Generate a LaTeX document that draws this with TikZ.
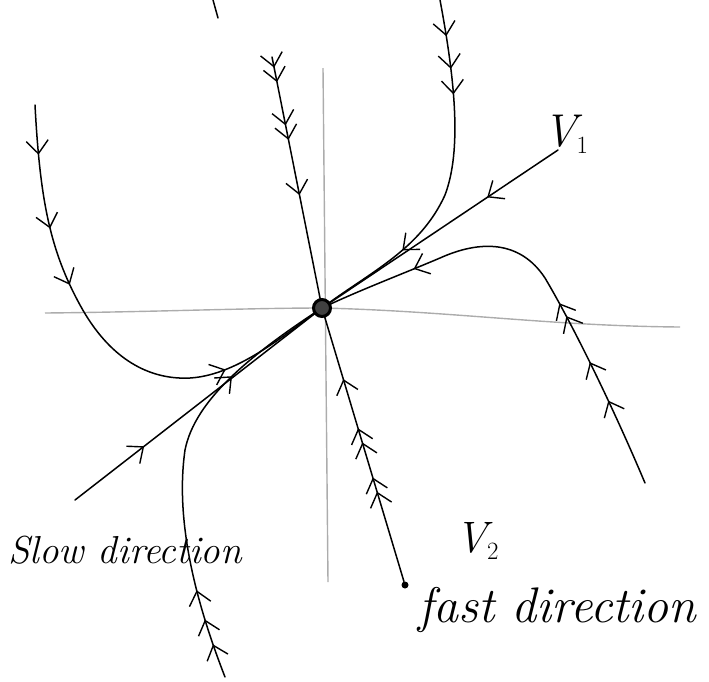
\documentclass[tikz,border=0pt]{standalone}
\usepackage{fontspec}
\usetikzlibrary{arrows.meta,decorations.markings}

\tikzset{
  >={Straight Barb[length=13pt,width=22pt,line width=1.4pt]},
  axis/.style={gray!65, line width=1.4pt},
  traj/.style={line width=1.5pt, line cap=round},
  barb/.style={postaction={decorate,decoration={markings,mark=at position #1 with {\arrow{>}}}}},
  dbarb/.style={postaction={decorate,decoration={markings,mark=at position #1 with {\arrow{>>}}}}},
  hand/.style={font=\itshape\fontsize{#1}{#1}\selectfont, inner sep=0pt}
}

\begin{document}
\begin{tikzpicture}[x=1pt, y=-1pt]
  \useasboundingbox (0,0) rectangle (709,681);
  % fixed point and end points of the trajectories
  \coordinate (o) at (322,308);
  \coordinate (xl) at (45,313);
  \coordinate (xr) at (680,327);
  \coordinate (yt) at (323,68);
  \coordinate (yb) at (328,582);
  \coordinate (v1end) at (558,150);
  \coordinate (slowend) at (75,500);
  \coordinate (topl) at (35,105);
  \coordinate (topm) at (272,57);
  \coordinate (topr) at (440,0);
  \coordinate (botr) at (645,483);
  \coordinate (botl) at (225,677);
  \node[circle, fill, inner sep=0pt, minimum size=7pt] (v2end) at (405,585) {};

  % axes
  \draw[axis] (xl) .. controls (150,312) and (250,308) .. (o)
    .. controls (450,311) and (550,326) .. (xr);
  \draw[axis] (yt) -- (yb);

  % eigen-directions
  \draw[traj, barb=0.3] (v1end) -- (o);
  \draw[traj, barb=0.28] (slowend) -- (o);
  \draw[traj, dbarb=0.38, dbarb=0.56, barb=0.74] (v2end) -- (o);
  \draw[traj, dbarb=0.1, dbarb=0.33, barb=0.55] (topm) -- (o);

  % curved trajectories
  \draw[traj, barb=0.1, barb=0.25, barb=0.37, barb=0.77] (topl)
    .. controls (40,200) and (50,250) .. (80,305)
    .. controls (110,360) and (150,380) .. (190,378)
    .. controls (240,375) and (290,330) .. (o);
  \draw[traj, barb=0.1, barb=0.19, barb=0.26, barb=0.73] (topr)
    .. controls (455,80) and (462,150) .. (445,195)
    .. controls (420,250) and (370,272) .. (o);
  \draw[traj, barb=0.19, barb=0.28, dbarb=0.42, barb=0.79] (botr)
    .. controls (610,400) and (570,320) .. (545,278)
    .. controls (520,240) and (480,240) .. (440,258)
    .. controls (400,275) and (360,290) .. (o);
  \draw[traj, barb=0.08, barb=0.14, barb=0.21, barb=0.74] (botl)
    .. controls (195,600) and (175,520) .. (185,450)
    .. controls (195,400) and (250,355) .. (o);

  \node[circle, draw, fill=black!75, line width=3pt, minimum size=17pt, inner sep=0pt] (O) at (o) {};

  % labels
  \node[hand=46, anchor=south west] (lv1) at (543,154) {V$_1$};
  \node[hand=44, anchor=south west] (lv2) at (455,560) {V$_2$};
  \node[hand=39, anchor=base west] (lslow) at (8,563) {Slow direction};
  \node[hand=50, anchor=base west] (lfast) at (418,622) {fast direction};
  \draw[traj] (213,0) -- (218,18);
\end{tikzpicture}
\end{document}
